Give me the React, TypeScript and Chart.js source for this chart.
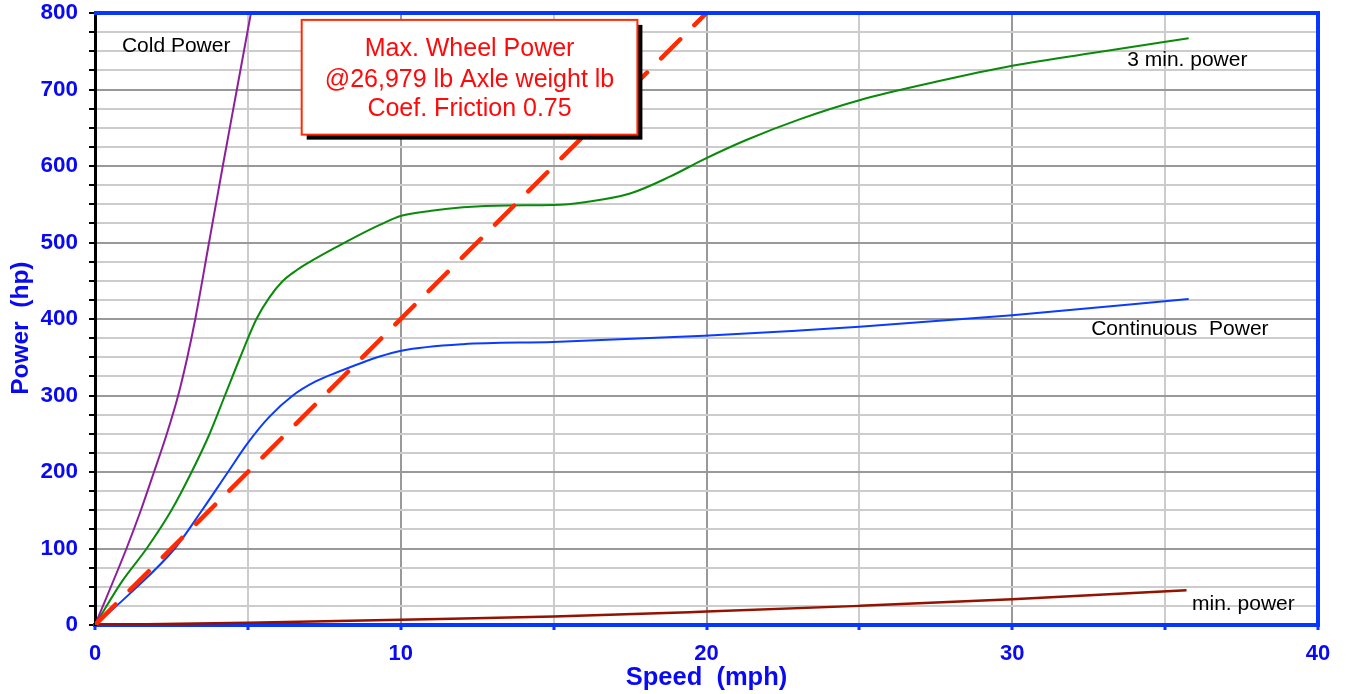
import React, { useEffect, useRef } from 'react';
import { Chart, registerables } from 'chart.js';

Chart.register(...registerables);

// ---- data ----
const wheelSpeed = [0, 20];
const wheelPower = [0, 800];

const coldSpeed = [0, 1.03, 1.5, 1.93, 2.35, 2.72, 3.02, 3.28, 3.73, 4.18, 4.64, 5.1];
const coldPower = [0, 100, 150, 200, 250, 300, 350, 400, 500, 600, 700, 800];

const threeMinSpeed = [0, 0.9, 1.69, 2.5, 3.16, 3.75, 4.25, 4.75, 5.28, 5.7, 6.15, 6.6, 7.0, 7.94, 8.6, 9.31, 10.02, 11, 12.04, 13.5, 14.98, 16.07, 17.5, 18.8, 19.93, 21.3, 23.04, 25, 27.5, 30, 33, 35.77];
const threeMinPower = [0, 58, 100, 150, 200, 250, 300, 350, 400, 428, 450, 464, 474, 495, 509, 523, 535, 541.5, 546, 548.5, 549, 553, 564, 586, 609, 634, 661, 686, 710, 731, 750, 767];

const contSpeed = [0, 1.14, 2.61, 3.5, 4.35, 5.0, 5.7, 6.47, 7.2, 7.9, 9.31, 10.02, 12.04, 14.98, 19.93, 23.04, 25, 30, 35.77];
const contPower = [0, 41, 100, 150, 200, 238, 272, 300, 318, 330, 351, 358.6, 367, 370, 378, 385, 390, 405, 426];

const minSpeed = [0, 5, 10, 15, 20, 25, 30, 35.7];
const minPower = [0, 3, 7, 11, 17.5, 25, 33.5, 45.5];

const xTickLabels = [0, 10, 20, 30, 40];
const yTickLabels = [0, 100, 200, 300, 400, 500, 600, 700, 800];

const boxLines = ['Max. Wheel Power', '@26,979 lb Axle weight lb', 'Coef. Friction 0.75'];

const FONT = "'Liberation Sans', Arial, Helvetica, sans-serif";
const AXIS_BLUE = '#0736FF';
const LABEL_BLUE = '#0A0AF2';

const toPts = (xs: number[], ys: number[]) => xs.map((x, i) => ({ x, y: ys[i] }));

const framePlugin = {
  id: 'frame',
  afterDraw(chart: any) {
    const { ctx, chartArea } = chart;
    const { left, top, right, bottom } = chartArea;
    ctx.save();
    ctx.strokeStyle = AXIS_BLUE;
    ctx.lineWidth = 4;
    ctx.beginPath();
    ctx.moveTo(left - 1, top);
    ctx.lineTo(right, top);
    ctx.lineTo(right, bottom + 2);
    ctx.stroke();
    // y axis title (drawn manually: it sits a little below the axis centre)
    ctx.fillStyle = LABEL_BLUE;
    ctx.font = `bold 24.5px ${FONT}`;
    ctx.textAlign = 'center';
    ctx.textBaseline = 'middle';
    ctx.translate(21, chart.scales.y.getPixelForValue(388));
    ctx.rotate(-Math.PI / 2);
    ctx.fillText('Power  (hp)', 0, 0);
    ctx.restore();
  },
};

const labelPlugin = {
  id: 'labels',
  afterDraw(chart: any) {
    const { ctx } = chart;
    const xs = chart.scales.x;
    const ys = chart.scales.y;
    const px = (v: number) => xs.getPixelForValue(v);
    const py = (v: number) => ys.getPixelForValue(v);
    ctx.save();
    // curve labels
    ctx.fillStyle = '#000';
    ctx.textBaseline = 'middle';
    ctx.textAlign = 'left';
    ctx.font = `21px ${FONT}`;
    ctx.fillText('Cold Power', px(0.88), py(757));
    ctx.fillText('3 min. power', px(33.76), py(738));
    ctx.fillText('Continuous  Power', px(32.58), py(387));
    ctx.fillText('min. power', px(35.88), py(27));

    // annotation box
    const bx1 = px(6.76), bx2 = px(17.74);
    const by1 = py(791), by2 = py(641);
    ctx.fillStyle = '#000';
    ctx.fillRect(bx1 + 5, by1 + 5, bx2 - bx1, by2 - by1);
    ctx.fillStyle = '#fff';
    ctx.fillRect(bx1, by1, bx2 - bx1, by2 - by1);
    ctx.strokeStyle = '#FF2A00';
    ctx.lineWidth = 2;
    ctx.strokeRect(bx1, by1, bx2 - bx1, by2 - by1);
    ctx.fillStyle = '#FF0A0A';
    ctx.textAlign = 'center';
    ctx.font = `25px ${FONT}`;
    const cx = (bx1 + bx2) / 2;
    const lineVals = [752.5, 712, 674];
    boxLines.forEach((t, i) => ctx.fillText(t, cx, py(lineVals[i])));
    ctx.restore();
  },
};

export default function App() {
  const ref = useRef<HTMLCanvasElement>(null);
  useEffect(() => {
    if (!ref.current) return;
    const common = { pointRadius: 0, pointHoverRadius: 0, fill: false, cubicInterpolationMode: 'monotone' as const };
    const chart = new Chart(ref.current, {
      type: 'line',
      data: {
        datasets: [
          {
            label: 'Max. Wheel Power',
            data: toPts(wheelSpeed, wheelPower),
            borderColor: '#FF2A00',
            borderWidth: 4.5,
            borderDash: [27, 20],
            borderDashOffset: -2,
            borderCapStyle: 'round',
            pointRadius: 0,
          },
          { label: 'Cold Power', data: toPts(coldSpeed, coldPower), borderColor: '#8E1F9C', borderWidth: 2, ...common },
          { label: '3 min. power', data: toPts(threeMinSpeed, threeMinPower), borderColor: '#0A8A0A', borderWidth: 2, ...common },
          { label: 'Continuous Power', data: toPts(contSpeed, contPower), borderColor: '#0A3CFF', borderWidth: 2, ...common },
          { label: 'min. power', data: toPts(minSpeed, minPower), borderColor: '#931200', borderWidth: 2.5, ...common },
        ],
      },
      options: {
        responsive: false,
        animation: false,
        events: [],
        layout: { padding: { top: 13, right: 28, left: 0, bottom: 0 } },
        plugins: { legend: { display: false }, tooltip: { enabled: false }, title: { display: false } },
        scales: {
          x: {
            type: 'linear',
            min: 0,
            max: 40,
            afterFit: (s: any) => { s.height = 69; s.paddingLeft = 0; s.paddingRight = 0; },
            ticks: {
              stepSize: 5,
              autoSkip: false,
              maxRotation: 0,
              color: LABEL_BLUE,
              padding: 11,
              font: { family: FONT, size: 22, weight: 'bold' },
              callback: (v: any) => (xTickLabels.includes(Number(v)) ? String(v) : ''),
            },
            grid: {
              color: (c: any) => (c.tick && c.tick.value % 10 === 0 ? '#999999' : '#CCCCCC'),
              lineWidth: 2,
              tickColor: AXIS_BLUE,
              tickLength: 5,
              tickWidth: 3,
            },
            border: { color: AXIS_BLUE, width: 4 },
            title: {
              display: true,
              text: 'Speed  (mph)',
              color: LABEL_BLUE,
              font: { family: FONT, size: 25.5, weight: 'bold' },
              padding: { top: 0, bottom: 1 },
            },
          },
          y: {
            type: 'linear',
            min: 0,
            max: 800,
            afterFit: (s: any) => { s.width = 95; s.paddingTop = 0; s.paddingBottom = 0; },
            ticks: {
              stepSize: 25,
              autoSkip: false,
              color: LABEL_BLUE,
              padding: 11,
              font: { family: FONT, size: 22.5, weight: 'bold' },
              callback: (v: any) => (yTickLabels.includes(Number(v)) ? String(v) : ''),
            },
            grid: {
              color: (c: any) => (c.tick && c.tick.value % 100 === 0 ? '#999999' : '#CCCCCC'),
              lineWidth: 2,
              tickColor: '#000000',
              tickLength: 6,
              tickWidth: 2,
            },
            border: { color: '#000000', width: 3 },
            title: { display: false },
          },
        },
      },
      plugins: [framePlugin, labelPlugin],
    } as any);
    return () => chart.destroy();
  }, []);

  return (
    <div style={{ position: 'absolute', left: 0, top: 0, width: 1346, height: 694, background: '#fff' }}>
      <canvas ref={ref} width={1346} height={694} style={{ display: 'block' }} />
    </div>
  );
}
